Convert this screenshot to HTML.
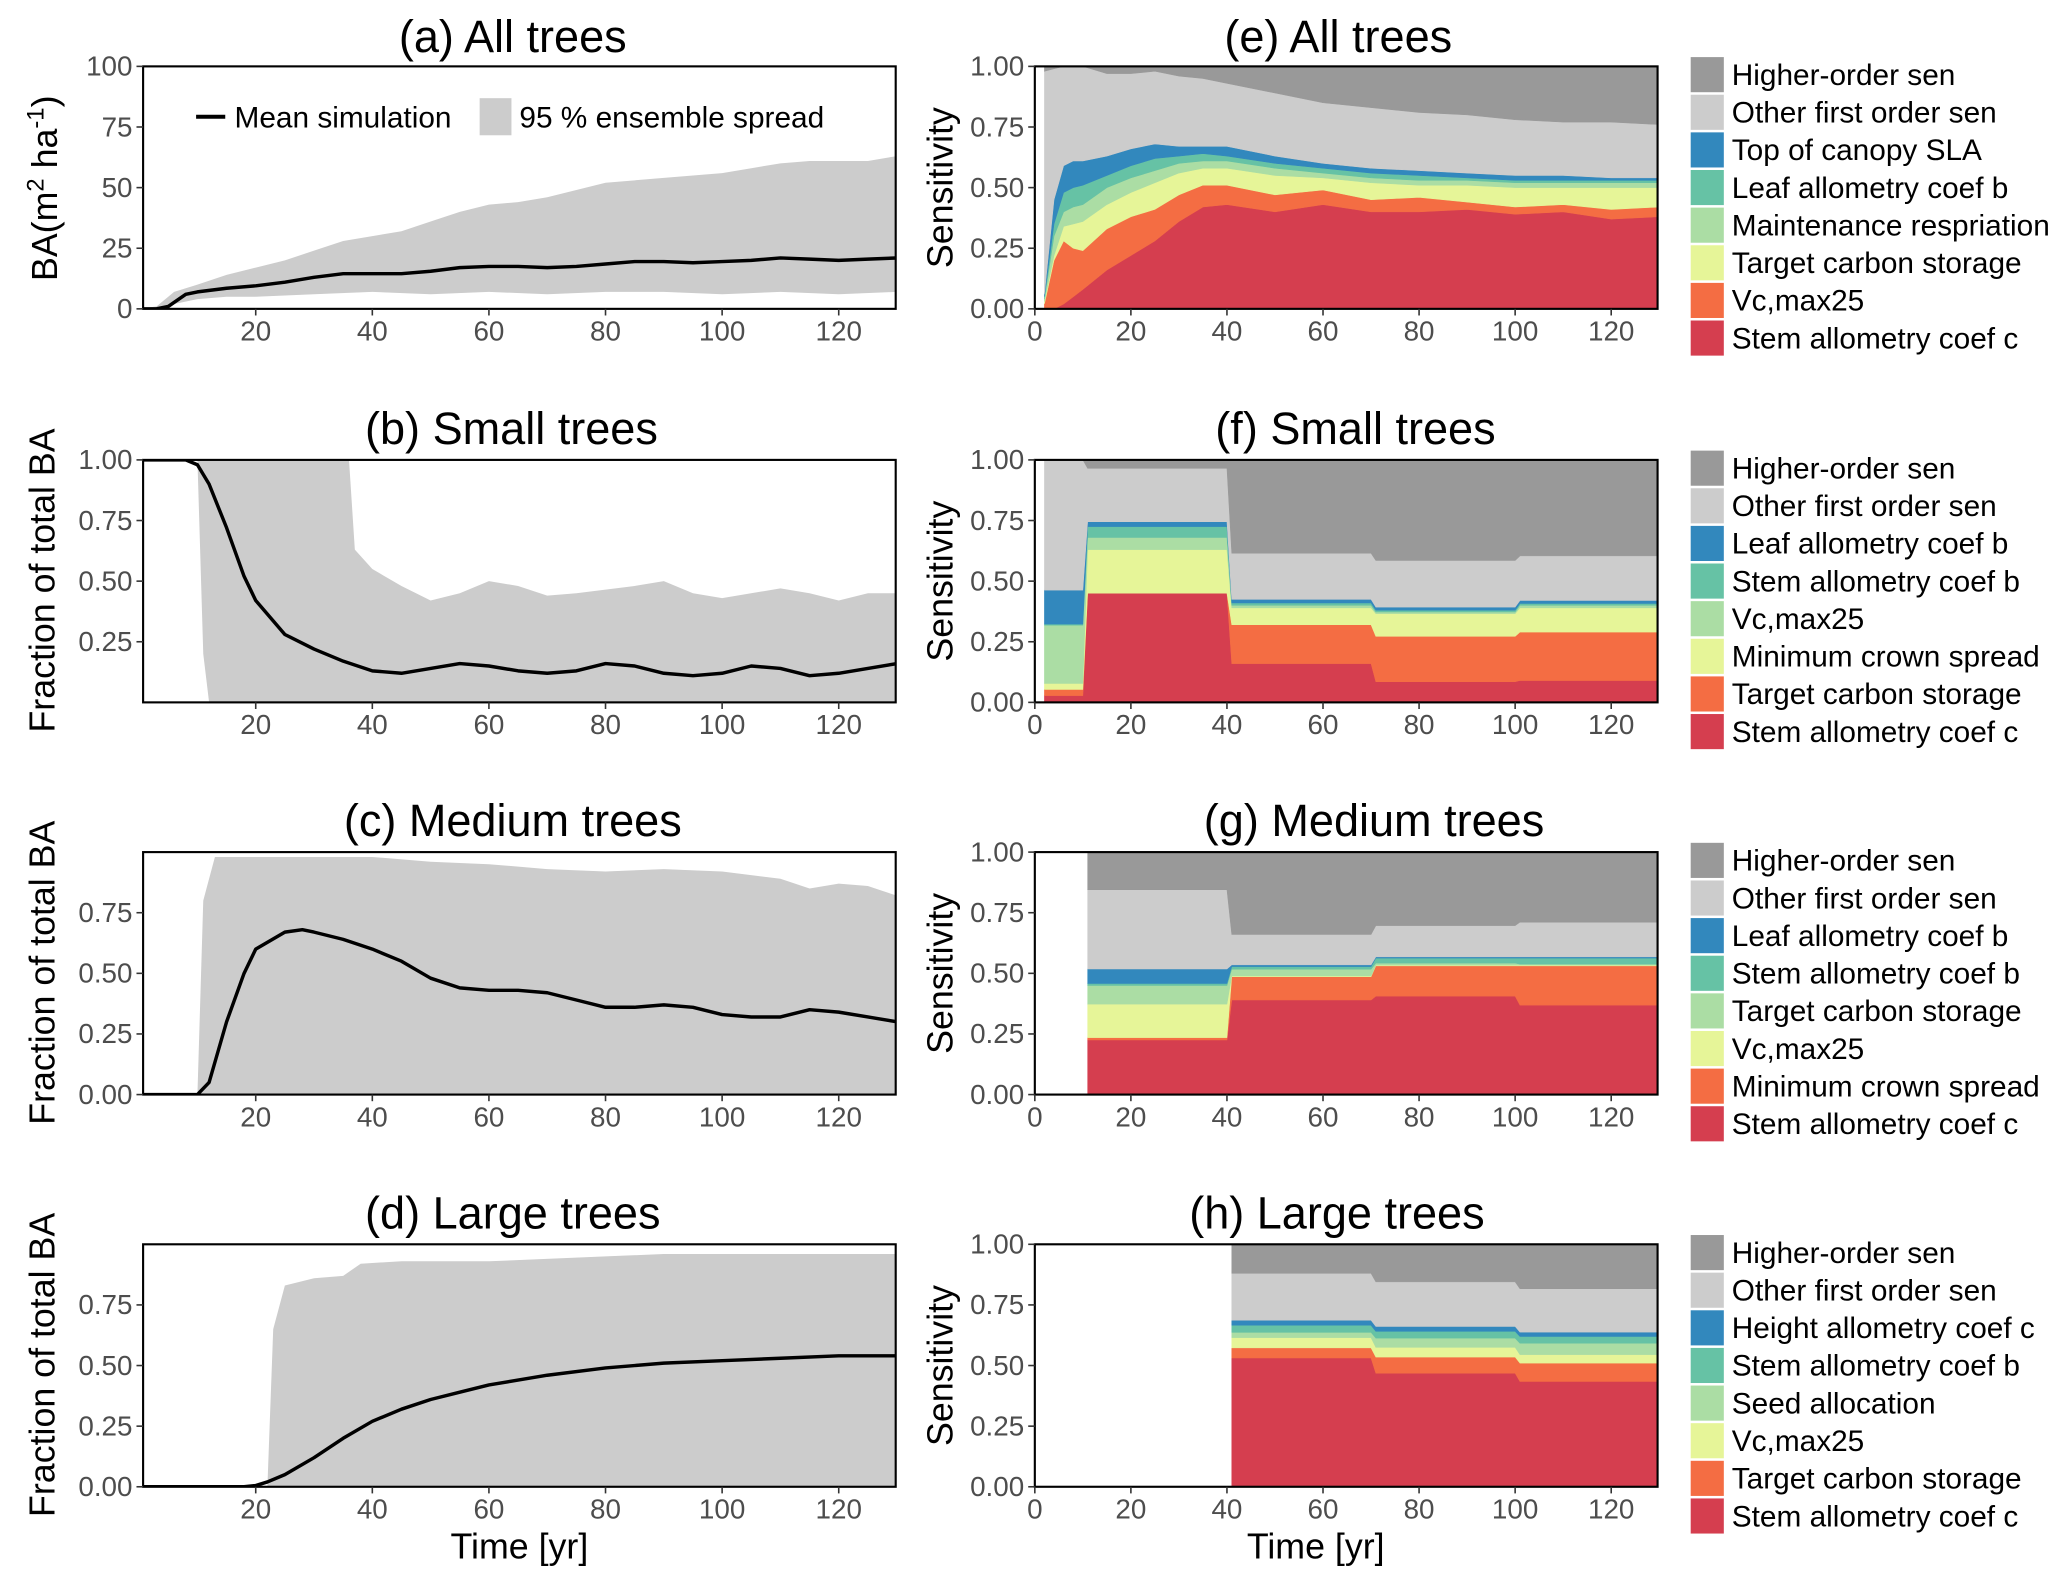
<!DOCTYPE html>
<html><head><meta charset="utf-8"><title>Sensitivity figure</title>
<style>
html,body{margin:0;padding:0;background:#fff;}
svg{display:block;}
.n{font-family:"Liberation Sans Narrow","Liberation Sans",sans-serif;}
.w{font-family:"Liberation Sans",sans-serif;}
.tk{font-size:21px;fill:#4d4d4d;}
.ttl{font-size:34px;fill:#000;}
.ax{font-size:27px;fill:#000;}
.lg{font-size:22.5px;fill:#000;}
</style></head>
<body>
<svg id="fig" width="2067" height="1577" viewBox="0 0 1560 1190" xmlns="http://www.w3.org/2000/svg"></svg>
<script>
// ---------- Panel (a) all trees, BA ----------
const aMeanX=[0,3,5,8,10,15,20,25,30,35,40,45,50,55,60,65,70,75,80,85,90,95,100,105,110,115,120,125,130];
const aMean=[0,0,1,6,7,8.5,9.5,11,13,14.5,14.5,14.5,15.5,17,17.5,17.5,17,17.5,18.5,19.5,19.5,19,19.5,20,21,20.5,20,20.5,21];
const aUpX=[0,3,6,10,15,20,25,30,35,40,45,50,55,60,65,70,75,80,85,90,95,100,105,110,115,120,125,130];
const aUp=[0,1,7,10,14,17,20,24,28,30,32,36,40,43,44,46,49,52,53,54,55,56,58,60,61,61,61,63];
const aLoX=[0,4,6,10,15,20,30,40,50,60,70,80,90,100,110,120,130];
const aLo=[0,0,2,4,5,5,6,7,6,7,6,7,7,6,7,6,7];
const aYTicks=[0,25,50,75,100];
// ---------- Panel (b) small trees ----------
const bMeanX=[0,8,10,12,15,18,20,25,30,35,40,45,50,55,60,65,70,75,80,85,90,95,100,105,110,115,120,125,130];
const bMean=[1,1,0.98,0.9,0.72,0.52,0.42,0.28,0.22,0.17,0.13,0.12,0.14,0.16,0.15,0.13,0.12,0.13,0.16,0.15,0.12,0.11,0.12,0.15,0.14,0.11,0.12,0.14,0.16];
const bUpX=[10,36,37,40,45,50,55,60,65,70,75,85,90,95,100,110,115,120,125,130];
const bUp=[1,1,0.63,0.55,0.48,0.42,0.45,0.5,0.48,0.44,0.45,0.48,0.5,0.45,0.43,0.47,0.45,0.42,0.45,0.45];
const bLoX=[10,11,12,130];
const bLo=[1,0.2,0,0];
// ---------- Panel (c) medium trees ----------
const cMeanX=[0,10,12,15,18,20,25,28,30,35,40,45,50,55,60,65,70,75,80,85,90,95,100,105,110,115,120,125,130];
const cMean=[0,0,0.05,0.3,0.5,0.6,0.67,0.68,0.67,0.64,0.6,0.55,0.48,0.44,0.43,0.43,0.42,0.39,0.36,0.36,0.37,0.36,0.33,0.32,0.32,0.35,0.34,0.32,0.3];
const cUpX=[10,11,13,40,50,60,70,80,90,100,110,115,120,125,130];
const cUp=[0,0.8,0.98,0.98,0.96,0.95,0.93,0.92,0.93,0.92,0.89,0.85,0.87,0.86,0.82];
const cLoX=[10,130];
const cLo=[0,0];
// ---------- Panel (d) large trees ----------
const dMeanX=[0,18,20,22,25,30,35,40,45,50,55,60,65,70,80,90,100,110,120,130];
const dMean=[0,0,0.005,0.02,0.05,0.12,0.2,0.27,0.32,0.36,0.39,0.42,0.44,0.46,0.49,0.51,0.52,0.53,0.54,0.54];
const dUpX=[22,23,25,30,35,38,45,60,80,90,130];
const dUp=[0,0.65,0.83,0.86,0.87,0.92,0.93,0.93,0.95,0.96,0.96];
const dLoX=[22,130];
const dLo=[0,0];
const fracTicks=[0,0.25,0.5,0.75];
const timeTicks=[20,40,60,80,100,120];
const senTicks=[0,0.25,0.5,0.75,1];
const senXTicks=[0,20,40,60,80,100,120];
// ---------- Panel (e) all trees sensitivity (layer thickness, bottom->top) ----------
const eX=[2,4,6,8,10,15,20,25,30,35,40,50,60,70,80,90,100,110,120,130];
const eStemC=[0,0,0.02,0.05,0.08,0.16,0.22,0.28,0.36,0.42,0.43,0.40,0.43,0.40,0.40,0.41,0.39,0.40,0.37,0.38];
const eVc=[0.02,0.2,0.26,0.2,0.16,0.17,0.16,0.13,0.11,0.09,0.08,0.07,0.06,0.05,0.06,0.03,0.03,0.03,0.04,0.04];
const eTarget=[0.01,0.02,0.06,0.10,0.12,0.10,0.10,0.11,0.09,0.07,0.07,0.08,0.05,0.07,0.05,0.07,0.08,0.07,0.09,0.08];
const eMaint=[0.01,0.08,0.06,0.07,0.07,0.07,0.06,0.05,0.04,0.03,0.03,0.03,0.02,0.02,0.02,0.02,0.02,0.02,0.02,0.02];
const eLeafB=[0.01,0.05,0.08,0.08,0.08,0.05,0.05,0.05,0.03,0.03,0.02,0.02,0.02,0.02,0.02,0.01,0.01,0.01,0.01,0.01];
const eSLA=[0.01,0.10,0.11,0.11,0.10,0.08,0.07,0.06,0.04,0.03,0.04,0.03,0.02,0.02,0.02,0.02,0.02,0.02,0.01,0.01];
const eOther=[0.92,0.54,0.41,0.39,0.39,0.34,0.31,0.30,0.29,0.28,0.26,0.26,0.25,0.25,0.24,0.24,0.23,0.22,0.23,0.22];
const eHigher=[0.02,0.01,0,0,0,0.03,0.03,0.02,0.04,0.05,0.07,0.11,0.15,0.17,0.19,0.20,0.22,0.23,0.23,0.24];
const eLabels=["Higher-order sen","Other first order sen","Top of canopy SLA","Leaf allometry coef b","Maintenance respriation","Target carbon storage","Vc,max25","Stem allometry coef c"];
// ---------- Panel (f) small trees (segment values, bottom->top) ----------
const fStart=[2,11,41,71,101];
const fStemC=[0.028,0.45,0.16,0.085,0.09];
const fTarget=[0.025,0,0.16,0.187,0.2];
const fMinCrown=[0.025,0.18,0.07,0.094,0.1];
const fVc=[0.24,0.05,0.01,0.007,0.01];
const fStemB=[0.005,0.045,0.01,0.007,0.008];
const fLeafB=[0.14,0.02,0.015,0.013,0.012];
const fOther=[0.537,0.22,0.19,0.192,0.184];
const fHigher=[0,0.035,0.385,0.415,0.396];
const fLabels=["Higher-order sen","Other first order sen","Leaf allometry coef b","Stem allometry coef b","Vc,max25","Minimum crown spread","Target carbon storage","Stem allometry coef c"];
// ---------- Panel (g) medium trees ----------
const gStart=[11,41,71,101];
const gStemC=[0.225,0.39,0.406,0.369];
const gMinCrown=[0.01,0.096,0.125,0.162];
const gVc=[0.138,0.003,0.003,0.003];
const gTarget=[0.077,0.028,0.008,0.004];
const gStemB=[0.008,0.011,0.021,0.025];
const gLeafB=[0.06,0.007,0.005,0.005];
const gOther=[0.327,0.125,0.129,0.143];
const gHigher=[0.155,0.34,0.303,0.289];
const gLabels=["Higher-order sen","Other first order sen","Leaf allometry coef b","Stem allometry coef b","Target carbon storage","Vc,max25","Minimum crown spread","Stem allometry coef c"];
// ---------- Panel (h) large trees ----------
const hStart=[41,71,101];
const hStemC=[0.531,0.468,0.434];
const hTarget=[0.042,0.067,0.076];
const hVc=[0.042,0.04,0.035];
const hSeed=[0.022,0.038,0.047];
const hStemB=[0.029,0.028,0.028];
const hHeightC=[0.021,0.02,0.018];
const hOther=[0.193,0.184,0.179];
const hHigher=[0.12,0.155,0.183];
const hLabels=["Higher-order sen","Other first order sen","Height allometry coef c","Stem allometry coef b","Seed allocation","Vc,max25","Target carbon storage","Stem allometry coef c"];

const COLORS=["#999999","#cccccc","#3288bd","#66c2a5","#abdda4","#e6f598","#f46d43","#d53e4f"]; // top->bottom legend order
const NS="http://www.w3.org/2000/svg";
const svg=document.getElementById('fig');
function mk(tag,attrs,parent){const e=document.createElementNS(NS,tag);for(const k in attrs)e.setAttribute(k,attrs[k]);(parent||svg).appendChild(e);return e;}
function txt(s,attrs,parent){const e=mk('text',attrs,parent);e.textContent=s;return e;}

const L={x0:108,x1:676,ox:105,kx:4.4};
const R={x0:781,x1:1251,ox:781,kx:3.625};
const tops=[50,347,643,939];const PH=183;

function axesLeft(i,ymax,yTicks,fmt,name){
  const top=tops[i],bot=top+PH;
  const xs=v=>L.ox+L.kx*v, ys=v=>bot-PH*v/ymax;
  const g=mk('g',{});
  
  
  const cid='clipL'+i;
  const cp=mk('clipPath',{id:cid},g);mk('rect',{x:L.x0,y:top,width:L.x1-L.x0,height:PH},cp);
  const plot=mk('g',{'clip-path':'url(#'+cid+')'},g);
  return {g,plot,xs,ys,top,bot};
}
function frameLeft(P,yTicks,fmt){
  mk('rect',{x:L.x0,y:P.top,width:L.x1-L.x0,height:PH,fill:'none',stroke:'#000','stroke-width':1.6},P.g);
  yTicks.forEach(t=>{const y=P.ys(t);
    mk('line',{x1:L.x0-5,x2:L.x0,y1:y,y2:y,stroke:'#333','stroke-width':1.2},P.g);
    const e=txt(fmt(t),{x:L.x0-8,y:y+7,'text-anchor':'end',class:'n tk'},P.g);
    });
  timeTicks.forEach(t=>{const x=P.xs(t);
    mk('line',{x1:x,x2:x,y1:P.bot,y2:P.bot+5,stroke:'#333','stroke-width':1.2},P.g);
    const e=txt(String(t),{x:x,y:P.bot+24,'text-anchor':'middle',class:'n tk'},P.g);
    });
}
function band(P,ux,u,lx,l){
  let d='M'+ux.map((x,k)=>P.xs(x)+','+P.ys(u[k])).join('L');
  for(let k=lx.length-1;k>=0;k--)d+='L'+P.xs(lx[k])+','+P.ys(l[k]);
  const p=mk('path',{d:d+'Z',fill:'#cccccc'},P.plot);
  
}
function meanLine(P,mx,m){
  const p=mk('path',{d:'M'+mx.map((x,k)=>P.xs(x)+','+P.ys(m[k])).join('L'),fill:'none',stroke:'#000','stroke-width':2.6,'stroke-linejoin':'round'},P.plot);
  
}
const f2=t=>t.toFixed(2);
// Panel a
let P=axesLeft(0,100,aYTicks,String,'panel-a-all-trees');
band(P,aUpX,aUp,aLoX,aLo);meanLine(P,aMeanX,aMean);frameLeft(P,aYTicks,String);
// legend a
mk('line',{x1:148,x2:170,y1:88,y2:88,stroke:'#000','stroke-width':3},P.g);
let e=txt('Mean simulation',{x:177,y:96,class:'n lg'},P.g);
mk('rect',{x:362,y:74,width:24,height:28,fill:'#cccccc'},P.g);
e=txt('95 % ensemble spread',{x:392,y:96,class:'n lg'},P.g);
// Panel b
P=axesLeft(1,1,null,null,'panel-b-small-trees');
band(P,bUpX,bUp,bLoX,bLo);meanLine(P,bMeanX,bMean);frameLeft(P,[0.25,0.5,0.75,1],f2);
// Panel c
P=axesLeft(2,1,null,null,'panel-c-medium-trees');
band(P,cUpX,cUp,cLoX,cLo);meanLine(P,cMeanX,cMean);frameLeft(P,fracTicks,f2);
// Panel d
P=axesLeft(3,1,null,null,'panel-d-large-trees');
band(P,dUpX,dUp,dLoX,dLo);meanLine(P,dMeanX,dMean);frameLeft(P,fracTicks,f2);

// right panels
function rightPanel(i,xs,layers,labels,name){
  const top=tops[i],bot=top+PH;
  const sx=v=>R.ox+R.kx*v, sy=v=>bot-PH*v;
  const g=mk('g',{});
  const cid='clipR'+i;const cp=mk('clipPath',{id:cid},g);mk('rect',{x:R.x0,y:top,width:R.x1-R.x0,height:PH},cp);
  const plot=mk('g',{'clip-path':'url(#'+cid+')'},g);
  const cum=xs.map(()=>0);
  layers.forEach((arr,li)=>{
    const lo=cum.slice();arr.forEach((v,k)=>cum[k]+=v);
    let d='M'+xs.map((x,k)=>sx(x)+','+sy(cum[k])).join('L');
    for(let k=xs.length-1;k>=0;k--)d+='L'+sx(xs[k])+','+sy(lo[k]);
    const p=mk('path',{d:d+'Z',fill:COLORS[7-li],stroke:COLORS[7-li],'stroke-width':0.4},plot);
    
    
  });
  mk('rect',{x:R.x0,y:top,width:R.x1-R.x0,height:PH,fill:'none',stroke:'#000','stroke-width':1.6},g);
  senTicks.forEach(t=>{const y=sy(t);
    mk('line',{x1:R.x0-5,x2:R.x0,y1:y,y2:y,stroke:'#333','stroke-width':1.2},g);
    const el=txt(t.toFixed(2),{x:R.x0-8,y:y+7,'text-anchor':'end',class:'n tk'},g);
    });
  senXTicks.forEach(t=>{const x=sx(t);
    mk('line',{x1:x,x2:x,y1:bot,y2:bot+5,stroke:'#333','stroke-width':1.2},g);
    const el=txt(String(t),{x:x,y:bot+24,'text-anchor':'middle',class:'n tk'},g);
    });
  labels.forEach((lab,k)=>{const y=top-7+k*28.4;
    const r=mk('rect',{x:1276,y:y,width:25,height:26.5,fill:COLORS[k]},g);
    
    const el=txt(lab,{x:1307,y:y+21,class:'n lg'},g);
    });
  const yl=txt('Sensitivity',{x:0,y:0,transform:'translate(719,'+(top+PH/2)+') rotate(-90)','text-anchor':'middle',class:'w ax'},g);
  
}
function stepify(starts,arrs){
  const xs=[];starts.forEach((s,k)=>{xs.push(s);xs.push(k<starts.length-1?starts[k+1]-1:130);});
  return {xs,layers:arrs.map(a=>{const o=[];a.forEach(v=>{o.push(v);o.push(v);});return o;})};
}
rightPanel(0,eX,[eStemC,eVc,eTarget,eMaint,eLeafB,eSLA,eOther,eHigher],eLabels,'panel-e-all-trees-sensitivity');
let S=stepify(fStart,[fStemC,fTarget,fMinCrown,fVc,fStemB,fLeafB,fOther,fHigher]);
rightPanel(1,S.xs,S.layers,fLabels,'panel-f-small-trees-sensitivity');
S=stepify(gStart,[gStemC,gMinCrown,gVc,gTarget,gStemB,gLeafB,gOther,gHigher]);
rightPanel(2,S.xs,S.layers,gLabels,'panel-g-medium-trees-sensitivity');
S=stepify(hStart,[hStemC,hTarget,hVc,hSeed,hStemB,hHeightC,hOther,hHigher]);
rightPanel(3,S.xs,S.layers,hLabels,'panel-h-large-trees-sensitivity');

// titles
const titles=[["(a) All trees",387,39],["(b) Small trees",386,335],["(c) Medium trees",387,631],["(d) Large trees",387,927],
["(e) All trees",1010,39],["(f) Small trees",1023,335],["(g) Medium trees",1037,631],["(h) Large trees",1009,927]];
titles.forEach(t=>{const el=txt(t[0],{x:t[1],y:t[2],'text-anchor':'middle',class:'n ttl'});
  });
// left y-axis titles
let yt=mk('text',{transform:'translate(43,142) rotate(-90)','text-anchor':'middle',class:'w ax'});

yt.innerHTML='BA(m<tspan dy="-10" font-size="18">2</tspan><tspan dy="10"> ha</tspan><tspan dy="-10" font-size="18">-1</tspan><tspan dy="10">)</tspan>';
[438,734,1030].forEach(cy=>{const el=txt('Fraction of total BA',{transform:'translate(41,'+cy+') rotate(-90)','text-anchor':'middle',class:'w ax'});
  });
[392,993].forEach(cx=>{const el=txt('Time [yr]',{x:cx,y:1176,'text-anchor':'middle',class:'n ax'});
  });
</script>
</body></html>
